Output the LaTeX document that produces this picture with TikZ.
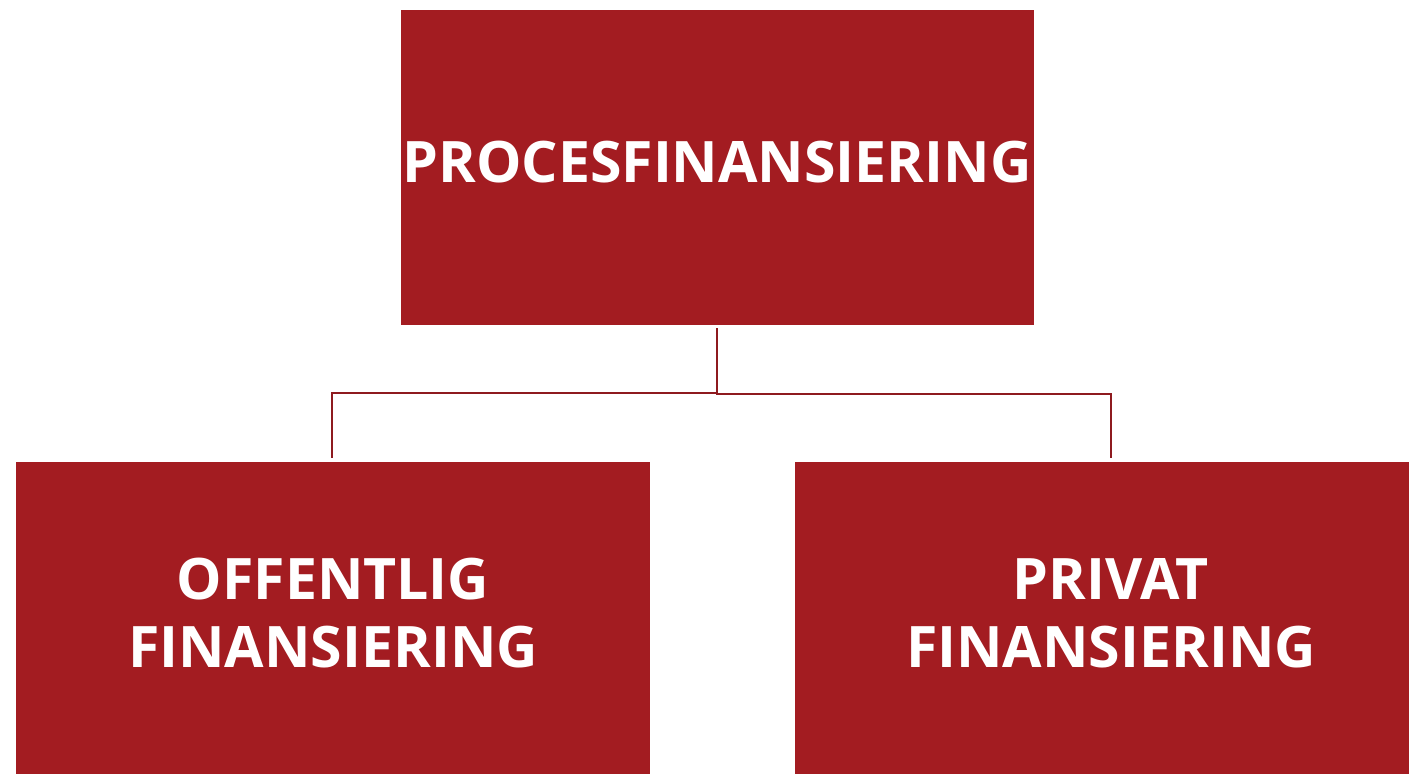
\documentclass[tikz,border=0pt]{standalone}
\usepackage{fontspec}
\setmainfont{Open Sans}
\definecolor{boxred}{HTML}{A31C21}
\definecolor{linered}{HTML}{8E1A1F}
\begin{document}
\begin{tikzpicture}[x=1pt,y=-1pt,
  box/.style={fill=boxred,draw=none},
  lbl/.style={text=white,font=\fontsize{57.2}{68}\selectfont\bfseries,align=center,inner sep=0pt},
  conn/.style={draw=linered,line width=2.8pt}]
\useasboundingbox (0,0) rectangle (1409,774);
\fill[box] (401,10) rectangle (1034,325);
\fill[box] (16,462) rectangle (650,774);
\fill[box] (795,462) rectangle (1409,774);
\node[lbl,anchor=base] (top) at (717,182) {PROCESFINANSIERING};
\node[lbl,anchor=base] (left) at (333,667) {OFFENTLIG\\FINANSIERING};
\node[lbl,anchor=base] (right) at (1111,667) {PRIVAT\\FINANSIERING};
\coordinate (ts) at (717,328);
\coordinate (tm) at (717,393);
\coordinate (le) at (332,458);
\coordinate (re) at (1111,458);
\draw[conn] (ts) -- (tm) -| (le);
\draw[conn] (tm) |- ++(0,1) -| (re);
\end{tikzpicture}
\end{document}
